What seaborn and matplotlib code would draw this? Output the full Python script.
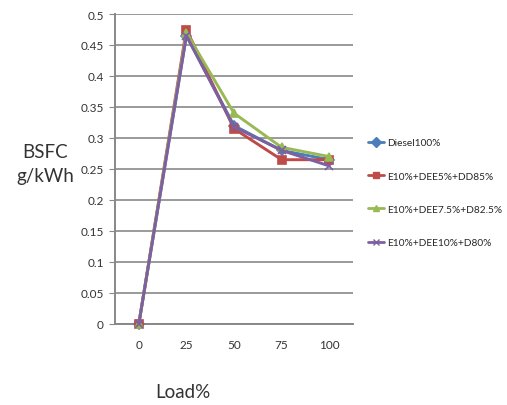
import matplotlib
matplotlib.use("Agg")
import matplotlib.pyplot as plt
import seaborn as sns
import pandas as pd
import numpy as np

loads = ["0", "25", "50", "75", "100"]
series_names = ["Diesel100%", "E10%+DEE5%+DD85%", "E10%+DEE7.5%+D82.5%", "E10%+DEE10%+D80%"]
diesel = [0, 0.465, 0.320, 0.280, 0.265]
dee5 = [0, 0.475, 0.315, 0.265, 0.265]
dee75 = [0, 0.470, 0.340, 0.285, 0.270]
dee10 = [0, 0.465, 0.318, 0.280, 0.255]
yticks = [0, 0.05, 0.1, 0.15, 0.2, 0.25, 0.3, 0.35, 0.4, 0.45, 0.5]
ytick_labels = ["0", "0.05", "0.1", "0.15", "0.2", "0.25", "0.3", "0.35", "0.4", "0.45", "0.5"]

colors = ["#4A7EBB", "#BE4B48", "#98B954", "#7D60A0"]
markers = ["D", "s", "^", "x"]

sns.set_style("white")
plt.rcParams['font.family'] = ['Lato', 'DejaVu Sans']

fig = plt.figure(figsize=(5.07, 4.06), dpi=100)
ax = fig.add_axes([115/507, 1-325/406, 238/507, 310/406])

for name, vals, c, m in zip(series_names, [diesel, dee5, dee75, dee10], colors, markers):
    d = pd.DataFrame({"pos": range(len(loads)), "BSFC": vals})
    sns.lineplot(data=d, x="pos", y="BSFC", color=c, marker=m, linewidth=2.1,
                 markersize=5.5, markeredgewidth=1.2, markeredgecolor=c, ax=ax,
                 clip_on=False, zorder=3)

ax.set_xlim(-0.5, 4.5)
ax.set_ylim(0, 0.5)
ax.set_yticks(yticks)
ax.set_yticklabels(ytick_labels, fontsize=8.5, color="#333333")
ax.set_xticks(range(5))
ax.set_xticklabels(loads, fontsize=8.5, color="#333333")
ax.set_xticks(np.arange(-0.5, 5, 1), minor=True)
ax.tick_params(axis="x", which="major", length=0, pad=11)
ax.tick_params(axis="x", which="minor", length=4, color="#888888", direction="inout")
ax.tick_params(axis="y", length=4, color="#888888", direction="out", pad=4, left=True)
ax.yaxis.grid(True, color="#9a9a9a", linewidth=1.4)
ax.xaxis.grid(False)
for s in ["top", "right"]:
    ax.spines[s].set_visible(False)
for s in ["left", "bottom"]:
    ax.spines[s].set_color("#888888")
    ax.spines[s].set_linewidth(1.4)
ax.set_xlabel("")
ax.set_ylabel("")

fig.text(45/507, 1-165/406, "BSFC\ng/kWh", ha="center", va="center", fontsize=13.5,
         color="#333333", linespacing=1.5)
fig.text(183/507, 1-393/406, "Load%", ha="center", va="center", fontsize=13.5, color="#333333")

from matplotlib.lines import Line2D
handles = [Line2D([0], [0], color=c, marker=m, lw=2, markersize=5, markeredgecolor=c)
           for c, m in zip(colors, markers)]
fig.legend(handles, series_names, loc="upper left", bbox_to_anchor=(364/507, 1-135/406),
           frameon=False, fontsize=7.3, handlelength=1.6, handletextpad=0.3,
           labelspacing=2.4, borderaxespad=0)

fig.savefig("out.png", dpi=100)
